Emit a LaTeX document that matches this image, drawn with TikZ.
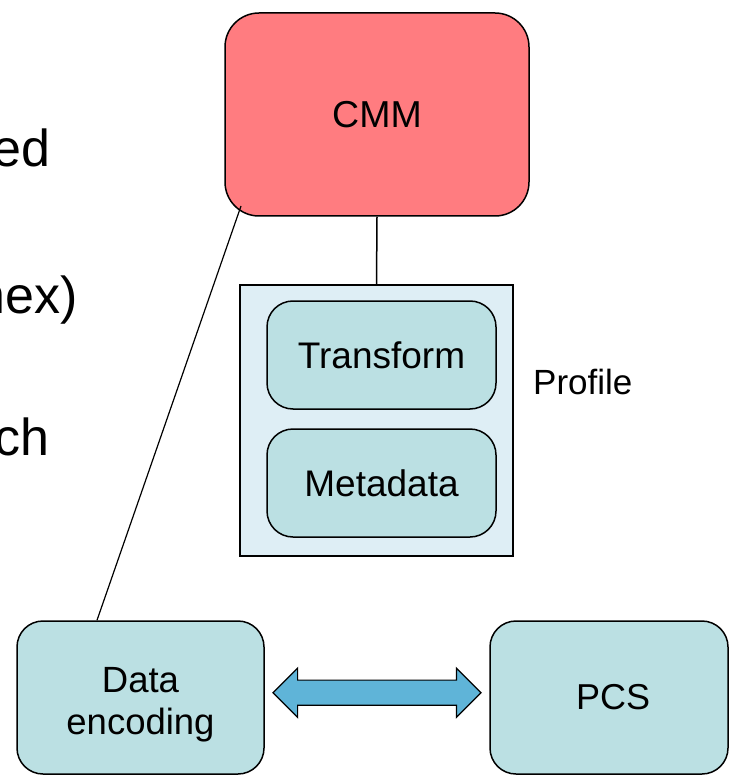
\documentclass[tikz,border=0pt]{standalone}
\usepackage{fontspec}
\setmainfont{Liberation Sans}
\usetikzlibrary{shapes.arrows}

\definecolor{cmmred}{HTML}{FF7C80}
\definecolor{profileblue}{HTML}{DEEEF5}
\definecolor{boxblue}{HTML}{BBE0E3}
\definecolor{arrowblue}{HTML}{5FB4D8}

\begin{document}
\begin{tikzpicture}[x=1pt, y=-1pt,
	box/.style={draw=black, line width=1.5pt, fill=boxblue, inner sep=0pt,
		align=center, rounded corners=26pt},
	bullet/.style={anchor=base east, inner sep=0pt,
		font=\fontsize{52}{62}\selectfont}]
	\useasboundingbox (0,0) rectangle (729,775);
	% Reste vom Folientext links
	\node[bullet] (bulleta) at (51, 167) {ed};
	\node[bullet] (bulletb) at (78, 313) {nex)};
	\node[bullet] (bulletc) at (50, 455) {ch};
	% CMM oben
	\node[box, fill=cmmred, minimum width=304pt, minimum height=203pt,
		rounded corners=34pt, font=\fontsize{37.5}{45}\selectfont] (cmm) at (377, 114.5) {CMM};
	% Profil mit Transform und Metadaten
	\node[draw=black, line width=1.5pt, fill=profileblue, minimum width=273pt,
		minimum height=271pt] (profile) at (376.5, 420.5) {};
	\node[box, minimum width=229pt, minimum height=108pt,
		font=\fontsize{37}{44}\selectfont] (transform) at (381.5, 355) {Transform};
	\node[box, minimum width=229pt, minimum height=108pt,
		font=\fontsize{37}{44}\selectfont] (metadata) at (381.5, 483) {Metadata};
	\node[anchor=base west, inner sep=0pt, font=\fontsize{35}{42}\selectfont]
		(proflabel) at (533, 394) {Profile};
	% unten: Datenkodierung und PCS
	\node[box, minimum width=247pt, minimum height=153pt,
		font=\fontsize{36.5}{42}\selectfont] (enc) at (140.5, 697.5)
		{\rule{0pt}{40pt}Data\\encoding};
	\node[box, minimum width=238pt, minimum height=153pt,
		font=\fontsize{36}{43}\selectfont] (pcs) at (609, 697.5) {\hspace*{8pt}PCS};
	\node[double arrow, draw=black, line width=1.2pt, fill=arrowblue,
		inner xsep=0pt, inner ysep=12pt, minimum height=208pt, minimum width=48pt,
		double arrow head extend=12pt] (link) at (377, 692.7) {};
	% Verbindungen
	\draw[line width=1.5pt] (cmm.south) -- (profile.north);
	\coordinate (cmmcorner) at (241, 206);
	\draw[line width=1.2pt] (cmmcorner) -- ([xshift=-43.5pt]enc.north);
\end{tikzpicture}
\end{document}
